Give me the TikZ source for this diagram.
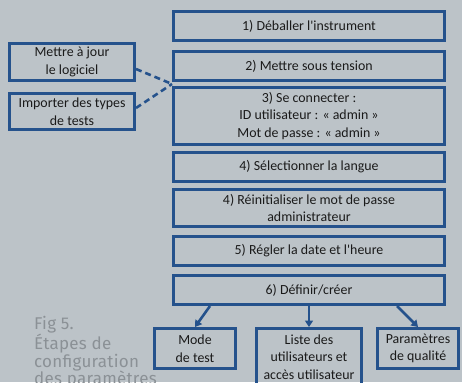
\documentclass[tikz,border=0pt]{standalone}
\usepackage{fontspec}
\setmainfont{Carlito}
\newfontfamily\figfont[LetterSpace=1.5]{Fira Sans}
\usetikzlibrary{arrows.meta,calc}
\definecolor{bg}{HTML}{BCC3C8}
\definecolor{bblue}{HTML}{25528C}
\definecolor{txt}{HTML}{1A1A1A}
\definecolor{figgray}{HTML}{8B9196}
\begin{document}
\begin{tikzpicture}[x=1pt,y=-1pt,
  box/.style={draw=bblue, line width=2.6pt, align=center, inner sep=0pt,
    text=txt, font=\fontsize{13.9}{17.5}\selectfont},
  mainbox/.style={box, minimum width=271.4pt},
  sidebox/.style={box, minimum width=125.4pt},
  subbox/.style={box, minimum width=81.4pt},
  conn/.style={draw=bblue, line width=2.6pt},
  arr/.style={conn, -{Triangle[width=8pt,length=6.5pt]}},
  dashline/.style={conn, dash pattern=on 6pt off 4pt},
]
\useasboundingbox (0,0) rectangle (462,382);
\fill[bg] (0,0) rectangle (462,382);

\node[mainbox, minimum height=29.4pt] (b1) at (309,26) {1) Déballer l\textquotesingle instrument};
\node[mainbox, minimum height=29.4pt] (b2) at (309,66) {2) Mettre sous tension};
\node[mainbox, minimum height=57.4pt] (b3) at (309,116) {3) Se connecter :\\ID utilisateur : « admin »\\Mot de passe : « admin »};
\node[mainbox, minimum height=29.4pt] (b4) at (309,167) {4) Sélectionner la langue};
\node[mainbox, minimum height=37.4pt] (b4b) at (309,208) {4) Réinitialiser le mot de passe\\administrateur};
\node[mainbox, minimum height=29.4pt] (b5) at (309,251) {5) Régler la date et l\textquotesingle heure};
\node[mainbox, minimum height=29.4pt] (b6) at (309,290) {6) Définir/créer};

\node[sidebox, minimum height=37.4pt] (maj) at (72,62) {Mettre à jour\\le logiciel};
\node[sidebox, minimum height=36.4pt] (imp) at (72,111.5) {Importer des types\\de tests};

\node[subbox, minimum height=40.4pt] (mode) at (195,348.5) {Mode\\de test};
\node[box, minimum width=105.4pt, minimum height=57.4pt] (liste) at (309,357) {Liste des\\utilisateurs et\\accès utilisateur};
\node[subbox, minimum height=40.4pt] (param) at (418,348.5) {Paramètres\\de qualité};

\coordinate (join) at ($(b2.south west)!.5!(b3.north west)$);
\draw[dashline] ([yshift=-7pt]maj.east) -- (join);
\draw[dashline] ([yshift=3.5pt]imp.east) -- (join);

\draw[arr] ([xshift=-99pt]b6.south) -- (mode.north);
\draw[arr] (b6.south) -- (liste.north);
\draw[arr] ([xshift=88pt]b6.south) -- (param.north);

\node[anchor=base west, align=left, text=figgray, inner sep=0pt,
  font=\figfont\fontsize{17}{17.6}\selectfont] (fig) at (34,384.8)
  {Fig 5.\\Étapes de\\configuration\\des paramètres};
\end{tikzpicture}
\end{document}
